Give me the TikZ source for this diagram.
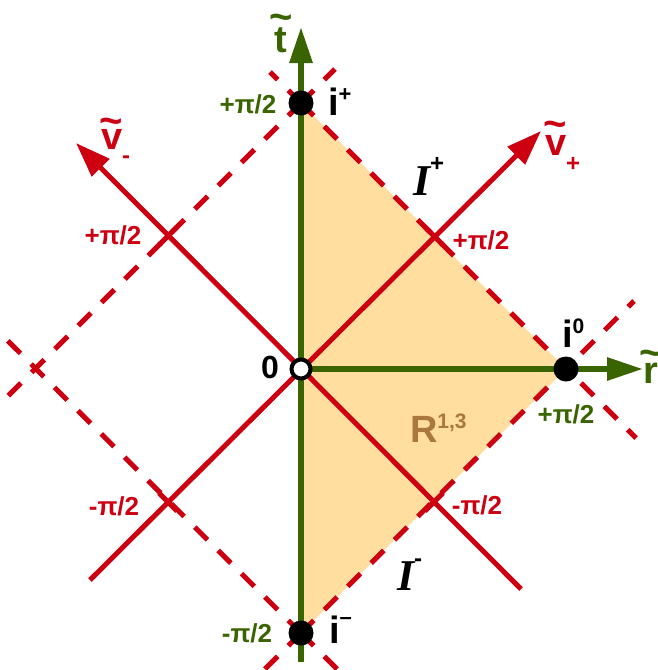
\documentclass[tikz,border=0pt]{standalone}
\usepackage{fontspec}
\setmainfont{Liberation Sans}
\newfontfamily\serifbi{Liberation Serif}
\usetikzlibrary{arrows.meta,calc}
\definecolor{cred}{RGB}{204,0,17}
\definecolor{cgreen}{RGB}{58,100,0}
\definecolor{cfill}{RGB}{255,222,160}
\definecolor{cbrown}{RGB}{170,120,60}
\newcommand{\fsz}[1]{\fontsize{#1}{#1}\selectfont}
\newcommand{\tld}[2]{\ooalign{#1\cr\hidewidth\raisebox{#2}{\fsz{40}\textasciitilde}\hidewidth\cr}}
\begin{document}
\begin{tikzpicture}[x=1pt,y=-1pt,
 every node/.style={inner sep=0pt, outer sep=0pt},
 redaxis/.style={draw=cred, line width=5pt, -{Triangle[length=35pt,width=24pt]}},
 greenaxis/.style={draw=cgreen, line width=6pt, -{Triangle[length=36pt,width=22pt]}},
 dashline/.style={draw=cred, line width=5pt, dash pattern=on 18pt off 15pt},
 tickmark/.style={draw=cred, line width=5pt},
 event/.style={circle, fill=black, minimum size=25pt},
 origin/.style={circle, draw=black, fill=white, line width=4pt, minimum size=19pt},
 pilab/.style={font=\bfseries\fsz{26}},
 biglab/.style={font=\bfseries\fsz{38}, anchor=base west},
 axlab/.style={font=\bfseries\fsz{38}, anchor=base},
 calI/.style={font=\serifbi\bfseries\itshape\fsz{44}, anchor=base west},
]
\useasboundingbox (0,0) rectangle (658,670);
% key points
\coordinate (O) at (301,369);
\coordinate (ip) at (301,103);
\coordinate (iz) at (566,369);
\coordinate (im) at (301,633);
\coordinate (il) at (36,369);
% region
\fill[cfill] (ip) -- (iz) -- (im) -- cycle;
% dashed lines v = +-pi/2
\coordinate (d1a) at (270,72);  \coordinate (d1b) at (636,438);
\coordinate (d2a) at (335,69);  \coordinate (d2b) at (4,400);
\coordinate (d3a) at (4,337);   \coordinate (d3b) at (338,670);
\coordinate (d4a) at (264,670); \coordinate (d4b) at (634,301);
\draw[dashline] (ip) -- (d1b);
\draw[dashline] (ip) -- (d1a);
\draw[dashline] (ip) -- (d2b);
\draw[dashline] (ip) -- (d2a);
\draw[dashline] (im) -- (d3a);
\draw[dashline] (im) -- (d3b);
\draw[dashline] (im) -- (d4b);
\draw[dashline] (im) -- (d4a);
% green axes
\coordinate (tb) at (301,662);
\coordinate (tt) at (301,27);
\coordinate (re) at (643,369);
\draw[greenaxis] (tb) -- (tt);
\draw[greenaxis] (O) -- (re);
% red axes
\coordinate (vpa) at (90,580);  \coordinate (vpb) at (541,131);
\coordinate (vma) at (521,589); \coordinate (vmb) at (76,143);
\draw[redaxis] (vpa) -- (vpb);
\draw[redaxis] (vma) -- (vmb);
% ticks
\coordinate (tk1) at (168,236);
\coordinate (tk2) at (434,236);
\coordinate (tk3) at (434,502);
\coordinate (tk4) at (168,502);
\draw[tickmark] ($(tk1)+(-9,9)$) -- ($(tk1)+(9,-9)$);
\draw[tickmark] ($(tk2)+(-9,-9)$) -- ($(tk2)+(9,9)$);
\draw[tickmark] ($(tk3)+(-9,9)$) -- ($(tk3)+(9,-9)$);
\draw[tickmark] ($(tk4)+(-9,-9)$) -- ($(tk4)+(9,9)$);
% events
\node[event] (nip) at (ip) {};
\node[event] (niz) at (iz) {};
\node[event] (nim) at (im) {};
\node[origin] (nO) at (O) {};
% axis labels
\node[axlab, text=cgreen] (tlab) at (281,52) {\tld{t}{22pt}};
\node[axlab, text=cgreen] (rlab) at (651,383) {\tld{r}{17pt}};
\node[biglab, text=cred] (vplab) at (545,155) {\tld{v}{17.5pt}\raisebox{-16pt}{\fsz{24}+}};
\node[biglab, text=cred] (vmlab) at (101,149) {\tld{v}{15pt}\raisebox{-14pt}{\fsz{24}-}};
% pi labels
\node[pilab, text=cgreen] (g1) at (248,104) {+π/2};
\node[pilab, text=cgreen] (g2) at (566,414) {+π/2};
\node[pilab, text=cgreen] (g3) at (247,633) {-π/2};
\node[pilab, text=cred] (r1) at (113,235) {+π/2};
\node[pilab, text=cred] (r2) at (481,240) {+π/2};
\node[pilab, text=cred] (r3) at (477,505) {-π/2};
\node[pilab, text=cred] (r4) at (114,506) {-π/2};
% point labels
\node[font=\bfseries\fsz{32}] (zero) at (270,367) {0};
\node[biglab] (lip) at (328,115) {i\raisebox{14pt}{\fsz{22}+}};
\node[biglab] (liz) at (562,347) {i\raisebox{14pt}{\fsz{21}0}};
\node[biglab] (lim) at (329,643) {i\raisebox{19pt}{\fsz{22}–}};
\node[calI] (Ip) at (413,195) {I\raisebox{24pt}{\normalfont\bfseries\fsz{24}+}};
\node[calI] (Im) at (397,590) {I\raisebox{24pt}{\normalfont\bfseries\fsz{24}-}};
\node[biglab, text=cbrown] (R13) at (410,442) {R\raisebox{14pt}{\fsz{21}1,3}};
\end{tikzpicture}
\end{document}
